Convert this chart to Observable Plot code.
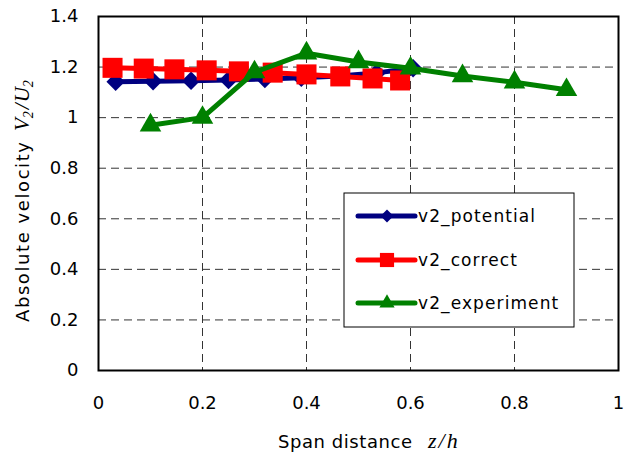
<!DOCTYPE html>
<html>
<head>
<meta charset="utf-8">
<script src="https://cdn.jsdelivr.net/npm/d3@7"></script>
<script src="https://cdn.jsdelivr.net/npm/@observablehq/plot@0.6"></script>
<style>
  html, body { margin: 0; padding: 0; background: #fff; }
</style>
</head>
<body>
<div id="chart"></div>
<script>
// Absolute velocity V2/U2 along the span z/h
const seriesNames = ["v2_potential", "v2_correct", "v2_experiment"];

const potentialZ = [0.033, 0.105, 0.178, 0.25, 0.32, 0.39, 0.463, 0.535, 0.605];
const potentialV = [1.142, 1.144, 1.146, 1.149, 1.153, 1.158, 1.165, 1.177, 1.195];

const correctZ = [0.027, 0.087, 0.146, 0.208, 0.27, 0.335, 0.40, 0.465, 0.527, 0.58];
const correctV = [1.197, 1.194, 1.191, 1.187, 1.183, 1.178, 1.171, 1.163, 1.155, 1.147];

const experimentZ = [0.1, 0.2, 0.3, 0.4, 0.5, 0.6, 0.7, 0.8, 0.9];
const experimentV = [0.97, 1.0, 1.18, 1.255, 1.22, 1.195, 1.165, 1.14, 1.11];

const xTicks = [0, 0.2, 0.4, 0.6, 0.8, 1];
const yTicks = [0, 0.2, 0.4, 0.6, 0.8, 1, 1.2, 1.4];
const xGrid = [0.2, 0.4, 0.6, 0.8];
const yGrid = [0.2, 0.4, 0.6, 0.8, 1, 1.2];

const rows = (z, v, name) => z.map((d, i) => ({ z: d, v: v[i], series: name }));
const series = [
  { name: seriesNames[0], data: rows(potentialZ, potentialV, seriesNames[0]), color: "#000080", symbol: "diamond2", r: 8.3 },
  { name: seriesNames[1], data: rows(correctZ, correctV, seriesNames[1]), color: "#ff0000", symbol: "square", r: 11.3 },
  { name: seriesNames[2], data: rows(experimentZ, experimentV, seriesNames[2]), color: "#008000", symbol: "triangle", r: 8 }
];

const fmt = d3.format("~g");
const sans = "DejaVu Sans, Verdana, sans-serif";
const serif = "Liberation Serif, Times New Roman, serif";

const plot = Plot.plot({
  width: 637,
  height: 455,
  marginLeft: 98,
  marginRight: 19,
  marginTop: 16,
  marginBottom: 85,
  style: { fontFamily: sans, fontSize: "18px", color: "#000", background: "#fff", overflow: "visible" },
  x: { domain: [0, 1] },
  y: { domain: [0, 1.4] },
  marks: [
    Plot.ruleX(xGrid, { stroke: "#333", strokeWidth: 1, strokeDasharray: "8,5" }),
    Plot.ruleY(yGrid, { stroke: "#333", strokeWidth: 1, strokeDasharray: "8,5" }),
    Plot.frame({ stroke: "#000", strokeWidth: 2 }),
    Plot.axisX({ ticks: xTicks, tickFormat: fmt, tickSize: 0, tickPadding: 26, label: null, fontSize: 18 }),
    Plot.axisY({ ticks: yTicks, tickFormat: fmt, tickSize: 0, tickPadding: 20, label: null, fontSize: 18 }),
    ...series.flatMap(s => [
      Plot.line(s.data, { x: "z", y: "v", stroke: s.color, strokeWidth: 5, strokeLinejoin: "round" }),
      Plot.dot(s.data, { x: "z", y: "v", symbol: s.symbol, r: s.r, fill: s.color, stroke: "none" })
    ])
  ]
});

const svg = d3.select(plot);

// x-axis title: "Span distance  z/h"
svg.append("text")
  .attr("x", 278).attr("y", 448).attr("text-anchor", "start")
  .attr("font-family", sans).attr("font-size", 18).attr("fill", "#000")
  .attr("textLength", 134).attr("lengthAdjust", "spacing")
  .text("Span distance");
svg.append("text")
  .attr("x", 428).attr("y", 448).attr("text-anchor", "start")
  .attr("font-family", serif).attr("font-style", "italic").attr("font-size", 22)
  .attr("letter-spacing", "2px")
  .attr("fill", "#000").text("z/h");

// y-axis title: "Absolute velocity  V2/U2" (rotated)
const yt = svg.append("g").attr("transform", "translate(29,322) rotate(-90)");
yt.append("text")
  .attr("x", 0).attr("y", 0).attr("text-anchor", "start")
  .attr("font-family", sans).attr("font-size", 18).attr("fill", "#000")
  .attr("textLength", 180).attr("lengthAdjust", "spacing")
  .text("Absolute velocity");
const ym = yt.append("text")
  .attr("x", 191).attr("y", 0).attr("text-anchor", "start")
  .attr("font-family", serif).attr("font-style", "italic").attr("font-size", 21).attr("fill", "#000");
ym.append("tspan").text("V");
ym.append("tspan").attr("font-size", 14).attr("dy", 4).attr("dx", 0).text("2");
ym.append("tspan").attr("dy", -4).attr("dx", 2).text("/");
ym.append("tspan").attr("dx", 1).text("U");
ym.append("tspan").attr("font-size", 14).attr("dy", 4).attr("dx", 0).text("2");

// legend box
const lg = svg.append("g");
lg.append("rect")
  .attr("x", 344).attr("y", 193).attr("width", 230).attr("height", 134)
  .attr("fill", "#fff").attr("stroke", "#000").attr("stroke-width", 1);
const entryY = [216, 260, 303];
series.forEach((s, i) => {
  const y = entryY[i];
  lg.append("line")
    .attr("x1", 358).attr("x2", 415).attr("y1", y).attr("y2", y)
    .attr("stroke", s.color).attr("stroke-width", 5).attr("stroke-linecap", "round");
  const symType = { diamond2: d3.symbolDiamond2, square: d3.symbolSquare, triangle: d3.symbolTriangle }[s.symbol];
  lg.append("path")
    .attr("transform", `translate(387,${y})`)
    .attr("d", d3.symbol(symType, Math.PI * s.r * s.r * 0.5)())
    .attr("fill", s.color);
  lg.append("text")
    .attr("x", 418).attr("y", y + 6).attr("text-anchor", "start")
    .attr("font-family", sans).attr("font-size", 17).attr("letter-spacing", "1.1px")
    .attr("fill", "#000").text(s.name);
});

document.getElementById("chart").appendChild(plot);
</script>
</body>
</html>
